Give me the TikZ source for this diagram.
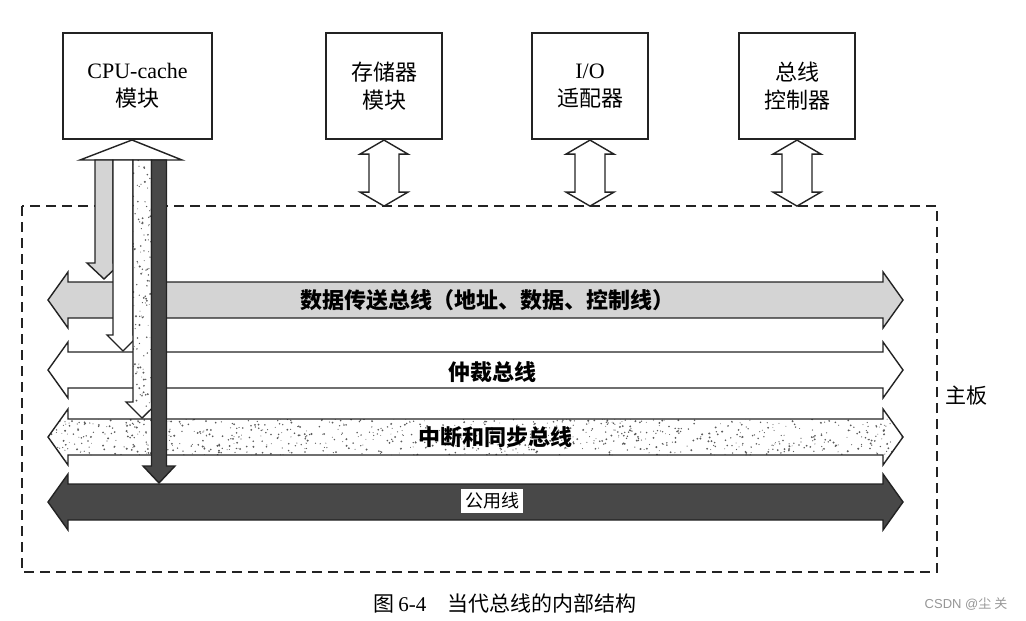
\documentclass[tikz,border=0pt]{standalone}
\usepackage{fontspec}
\setmainfont{Liberation Serif}
\newfontfamily\cjk{Noto Sans CJK SC}
\newfontfamily\sanslat{Liberation Sans}
\usepackage{tikz}
\definecolor{grisBus}{RGB}{212, 212, 212}
\definecolor{grisFonce}{RGB}{72, 72, 72}
\definecolor{noirTrait}{RGB}{35, 35, 35}
\definecolor{grisMarque}{RGB}{150, 150, 150}

\begin{document}
\begin{tikzpicture}[x=0.5pt, y=-0.5pt,
  module/.style={rectangle, draw=noirTrait, line width=1.1pt,
    minimum width=58pt, minimum height=53pt,
    align=center, font=\fontsize{11}{14}\selectfont},
  fleche/.style={draw=noirTrait, line width=0.7pt, fill=#1},
  busform/.style={insert path={(48,0) -- (68,-28) -- (68,-18) -- (883,-18)
    -- (883,-28) -- (903,0) -- (883,28) -- (883,18) -- (68,18) -- (68,28) -- cycle}},
  buslbl/.style={font=\cjk\bfseries\fontsize{11}{13}\selectfont},
  grain/.style={fill=noirTrait!75},
]
\useasboundingbox (0,0) rectangle (1026,620);
\pgfmathsetseed{64}
\node[module, minimum width=74.5pt] (cpu) at (137.5,86) {CPU-cache\\{\cjk 模块}};
\node[module] (mem)  at (384,86) {{\cjk 存储器}\\{\cjk 模块}};
\node[module] (io)   at (590,86) {I/O\\{\cjk 适配器}};
\node[module] (ctrl) at (797,86) {{\cjk 总线}\\{\cjk 控制器}};
\foreach \m in {mem, io, ctrl}
  \draw[fleche=white] (\m.south) -- ++(24,14) -- ++(-9,0) -- ++(0,38) -- ++(9,0)
    -- ++(-24,14) -- ++(-24,-14) -- ++(9,0) -- ++(0,-38) -- ++(-9,0) -- cycle;
\draw[noirTrait, line width=0.7pt, dash pattern=on 5pt off 3pt] (22,206) rectangle (937,572);
\node[font=\cjk\fontsize{10.5}{12}\selectfont] (carte) at (966,396) {主板};
% les quatre bus
\draw[fleche=grisBus, shift={(0,300)}, busform];
\draw[fleche=white, shift={(0,370)}, busform];
\begin{scope}
  \clip[shift={(0,437)}, busform];
  \fill[white] (40,400) rectangle (910,470);
  \foreach \k in {1,...,1400} {
    \pgfmathsetmacro\px{48+855*rnd}
    \pgfmathsetmacro\py{409+56*rnd}
    \pgfmathsetmacro\pr{0.2+0.35*rnd}
    \fill[grain] (\px,\py) circle[radius=\pr pt];
  }
\end{scope}
\draw[fleche=none, shift={(0,437)}, busform];
\draw[fleche=grisFonce, shift={(0,502)}, busform];
\node[buslbl] (donnees) at (487,300) {数据传送总线（地址、数据、控制线）};
\node[buslbl] (arbitre) at (492,372) {仲裁总线};
\node[buslbl] (interr)  at (495,437) {中断和同步总线};
\node[fill=white, inner xsep=2pt, inner ysep=1.8pt,
  font=\cjk\fontsize{9}{11}\selectfont] (commun) at (492,501) {公用线};
% fleches du module CPU
\draw[fleche=white] (132,140) -- (182,160) -- (80,160) -- cycle;
\draw[fleche=grisBus] (95,160) -- (113,160) -- (113,263) -- (121,263) -- (104,279)
  -- (87,263) -- (95,263) -- cycle;
\draw[fleche=white] (113,160) -- (133,160) -- (133,335) -- (139,335) -- (123,351)
  -- (107,335) -- (113,335) -- cycle;
\begin{scope}
  \clip (133,160) -- (151.5,160) -- (151.5,402) -- (158.5,402) -- (142,418)
    -- (126,402) -- (133,402) -- cycle;
  \fill[white] (120,155) rectangle (165,420);
  \foreach \k in {1,...,220} {
    \pgfmathsetmacro\px{126+33*rnd}
    \pgfmathsetmacro\py{160+258*rnd}
    \pgfmathsetmacro\pr{0.2+0.35*rnd}
    \fill[grain] (\px,\py) circle[radius=\pr pt];
  }
\end{scope}
\draw[fleche=none] (133,160) -- (151.5,160) -- (151.5,402) -- (158.5,402) -- (142,418)
  -- (126,402) -- (133,402) -- cycle;
\draw[fleche=grisFonce] (151.5,160) -- (166.5,160) -- (166.5,466) -- (175,466) -- (159,483)
  -- (143,466) -- (151.5,466) -- cycle;
\node[font=\fontsize{10.5}{12}\selectfont] (titre) at (505,603)
  {{\cjk 图}\,6-4\quad{\cjk 当代总线的内部结构}};
\node[text=grisMarque, font=\sanslat\fontsize{6.5}{8}\selectfont] (marque) at (966,604)
  {CSDN @{\cjk 尘 关}};
\end{tikzpicture}
\end{document}
